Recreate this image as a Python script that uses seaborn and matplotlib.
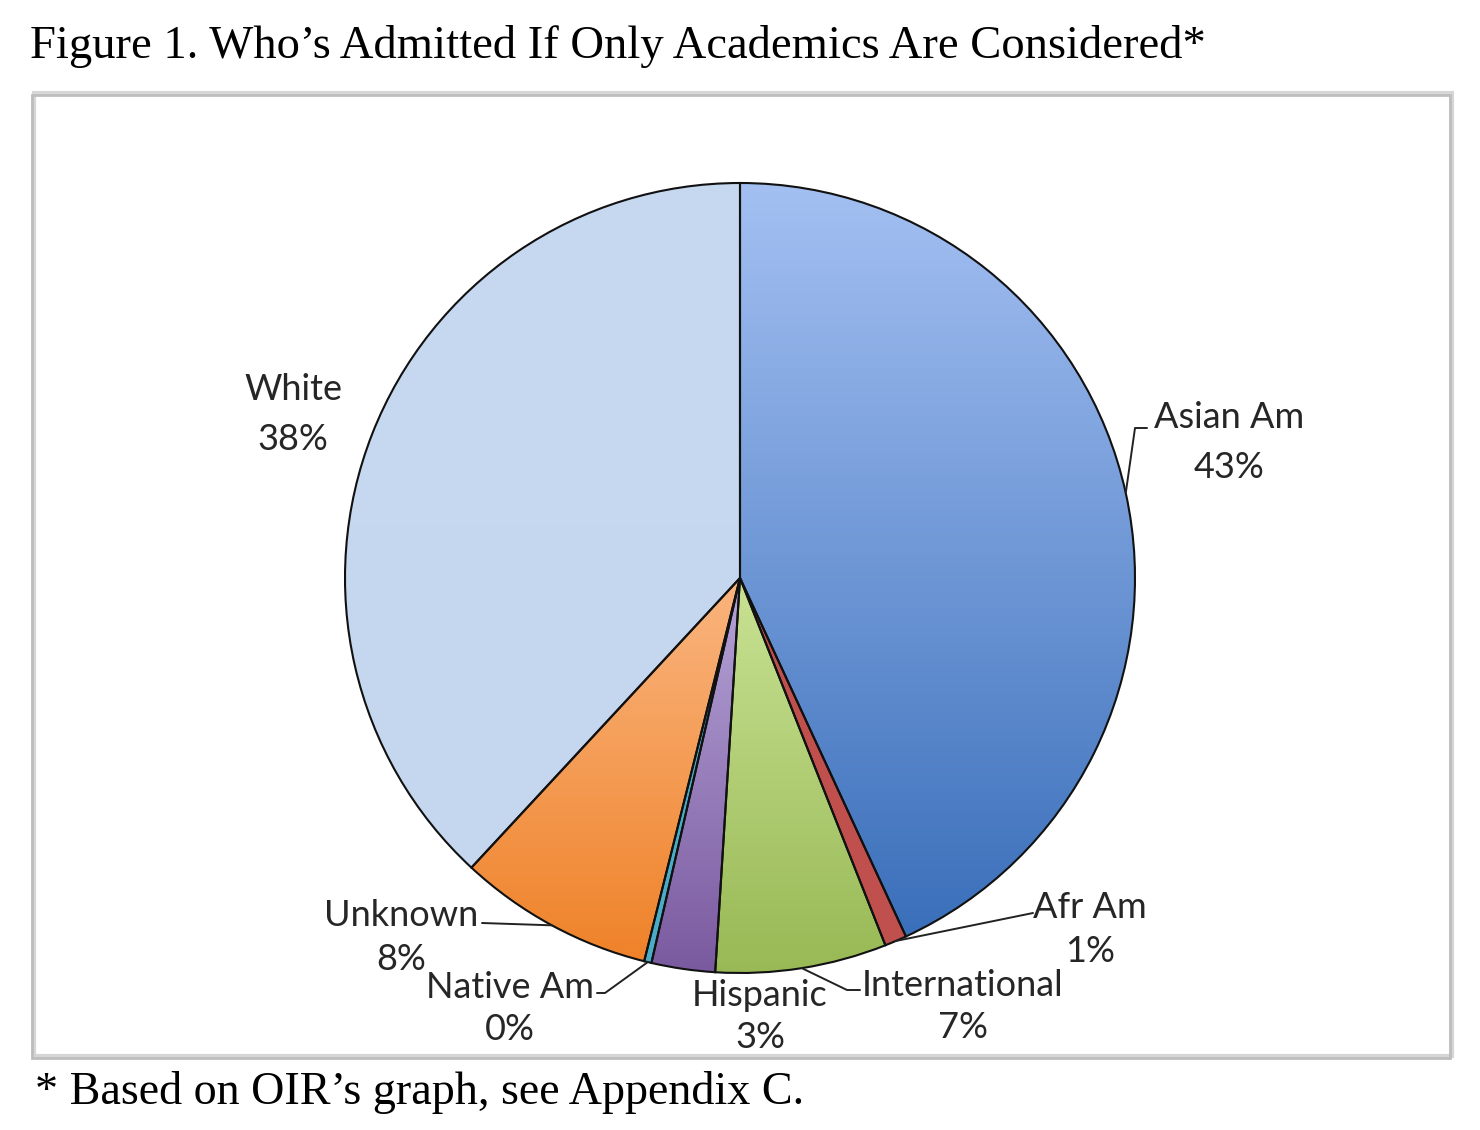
import matplotlib
matplotlib.use("Agg")
import matplotlib.pyplot as plt
import numpy as np
import seaborn as sns
from matplotlib.patches import Rectangle

sns.set_theme(style="white")
plt.rcParams['font.family'] = ['Lato', 'DejaVu Sans']

# 数据
groups = ["Asian Am", "Afr Am", "International", "Hispanic", "Native Am", "Unknown", "White"]
shares = [43.1, 0.9, 7.0, 2.6, 0.3, 8.0, 38.1]
# 渐变色（上浅下深）
top_colors = ["#a4c0f2", "#c0504d", "#c9e294", "#b6a4d8", "#4bacc6", "#fab57f", "#c6d9f1"]
bottom_colors = ["#3a6fba", "#c0504d", "#98b955", "#7a5a9f", "#4bacc6", "#ef8229", "#c4d7ef"]

W, H = 1480, 1130


def py(y):
    # 图片坐标（从上往下）转成数据坐标
    return H - y


fig = plt.figure(figsize=(W / 100, H / 100), dpi=100)
ax = fig.add_axes([0, 0, 1, 1])

cx, cy, r = 740, py(578), 395
wedges, _ = ax.pie(shares, startangle=90, counterclock=False, center=(cx, cy), radius=r,
                   colors=top_colors, wedgeprops=dict(edgecolor="#111111", linewidth=1.5))

# 每个扇形填渐变
grad = np.linspace(0, 1, 256).reshape(-1, 1)
for w, c0, c1 in zip(wedges, top_colors, bottom_colors):
    ext = w.get_path().get_extents()
    cmap = sns.blend_palette([c1, c0], as_cmap=True)
    im = ax.imshow(grad, cmap=cmap, origin="lower", aspect="auto", zorder=1,
                   extent=[ext.x0, ext.x1, ext.y0, ext.y1], interpolation="bilinear")
    im.set_clip_path(w)
    w.set_facecolor("none")
    w.set_zorder(2)

# 标签位置 (名称中心 x, 名称 y, 百分比 y)，以及引线折点
label_pos = {
    "Asian Am": (1229, 418, 467),
    "Afr Am": (1090, 908, 951),
    "International": (963, 985, 1027),
    "Hispanic": (760, 995, 1037),
    "Native Am": (510, 988, 1030),
    "Unknown": (401, 916, 960),
    "White": (293, 390, 440),
}
leaders = {
    "Asian Am": [(1135, 428), (1147, 428)],
    "Afr Am": [(1033, 913)],
    "International": [(847, 990), (860, 990)],
    "Native Am": [(605, 993), (597, 993)],
    "Unknown": [(482, 923)],
}

txt_color = "#262626"
for w, name, v in zip(wedges, groups, shares):
    x, yn, yp = label_pos[name]
    ax.text(x, py(yn), name, ha="center", va="center", fontsize=26, color=txt_color, zorder=5)
    ax.text(x, py(yp), f"{round(v)}%", ha="center", va="center", fontsize=26, color=txt_color, zorder=5)
    if name in leaders:
        mid = np.deg2rad((w.theta1 + w.theta2) / 2)
        xs = [cx + r * np.cos(mid)] + [p[0] for p in leaders[name]]
        ys = [cy + r * np.sin(mid)] + [py(p[1]) for p in leaders[name]]
        ax.plot(xs, ys, color="#222222", lw=1.4, zorder=4)

# 外框
ax.add_patch(Rectangle((34, py(1056)), 1418, 963, facecolor="none", edgecolor="#d6d6d6", lw=3, zorder=0))
ax.add_patch(Rectangle((32, py(1058)), 1418, 963, facecolor="none", edgecolor="#bdbdbd", lw=2, zorder=0))

ax.text(30, py(46), "Figure 1. Who\u2019s Admitted If Only Academics Are Considered*",
        family="Liberation Serif", fontsize=33.6, color="black", ha="left", va="center")
ax.text(35, py(1092), "* Based on OIR\u2019s graph, see Appendix C.",
        family="Liberation Serif", fontsize=33.2, color="black", ha="left", va="center")

ax.set_xlim(0, W)
ax.set_ylim(0, H)
ax.set_aspect("auto")
ax.axis("off")

fig.savefig("out.png", dpi=100)
